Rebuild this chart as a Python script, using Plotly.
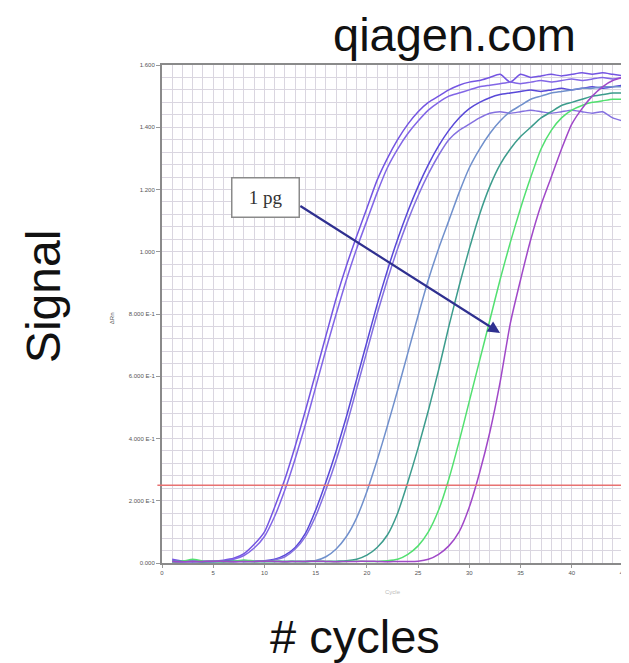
import plotly.graph_objects as go

cycles = list(range(1, 46))

rep_a1 = [0.012, 0.006, 0.004, 0.005, 0.006, 0.009, 0.015, 0.03, 0.06, 0.10,
          0.18, 0.27, 0.375, 0.49, 0.61, 0.73, 0.85, 0.955, 1.05, 1.14,
          1.23, 1.30, 1.36, 1.41, 1.45, 1.48, 1.50, 1.52, 1.535, 1.545,
          1.55, 1.56, 1.57, 1.545, 1.57, 1.56, 1.565, 1.57, 1.565, 1.57,
          1.575, 1.57, 1.575, 1.57, 1.565]
rep_a2 = [0.008, 0.005, 0.005, 0.004, 0.005, 0.007, 0.012, 0.024, 0.048, 0.085,
          0.15, 0.235, 0.335, 0.445, 0.565, 0.685, 0.80, 0.91, 1.01, 1.10,
          1.19, 1.27, 1.33, 1.38, 1.42, 1.455, 1.48, 1.50, 1.51, 1.52,
          1.53, 1.535, 1.54, 1.545, 1.54, 1.545, 1.55, 1.545, 1.55, 1.555,
          1.55, 1.555, 1.56, 1.555, 1.56]
rep_b1 = [0.005, 0.004, 0.006, 0.005, 0.004, 0.005, 0.006, 0.005, 0.006, 0.007,
          0.012, 0.025, 0.05, 0.095, 0.17, 0.26, 0.36, 0.47, 0.59, 0.71,
          0.83, 0.94, 1.04, 1.13, 1.21, 1.28, 1.34, 1.39, 1.43, 1.46,
          1.48, 1.495, 1.505, 1.51, 1.515, 1.52, 1.515, 1.52, 1.525, 1.52,
          1.525, 1.53, 1.525, 1.53, 1.535]
rep_b2 = [0.004, 0.005, 0.005, 0.004, 0.006, 0.005, 0.004, 0.006, 0.005, 0.005,
          0.01, 0.02, 0.045, 0.085, 0.15, 0.235, 0.33, 0.44, 0.56, 0.68,
          0.80, 0.91, 1.01, 1.10, 1.18, 1.25, 1.31, 1.36, 1.39, 1.41,
          1.43, 1.445, 1.45, 1.445, 1.45, 1.455, 1.45, 1.445, 1.45, 1.455,
          1.45, 1.445, 1.45, 1.43, 1.42]
rep_c = [0.005, 0.004, 0.005, 0.006, 0.005, 0.004, 0.005, 0.005, 0.006, 0.005,
         0.005, 0.004, 0.005, 0.006, 0.008, 0.02, 0.045, 0.085, 0.145, 0.23,
         0.33, 0.44, 0.555, 0.675, 0.795, 0.91, 1.01, 1.10, 1.19, 1.27,
         1.33, 1.38, 1.42, 1.45, 1.47, 1.49, 1.50, 1.51, 1.515, 1.52,
         1.525, 1.525, 1.53, 1.53, 1.53]
rep_d = [0.005, 0.006, 0.005, 0.004, 0.005, 0.005, 0.006, 0.005, 0.004, 0.005,
         0.005, 0.006, 0.005, 0.004, 0.005, 0.005, 0.006, 0.007, 0.012, 0.025,
         0.05, 0.09, 0.16, 0.26, 0.37, 0.49, 0.62, 0.76, 0.89, 1.01,
         1.12, 1.21, 1.28, 1.33, 1.37, 1.40, 1.43, 1.45, 1.47, 1.48,
         1.49, 1.50, 1.505, 1.51, 1.51]
rep_e = [0.004, 0.006, 0.012, 0.006, 0.005, 0.004, 0.005, 0.01, 0.006, 0.005,
         0.005, 0.004, 0.005, 0.005, 0.006, 0.005, 0.004, 0.005, 0.006, 0.005,
         0.005, 0.007, 0.012, 0.028, 0.055, 0.10, 0.17, 0.27, 0.39, 0.52,
         0.65, 0.78, 0.91, 1.03, 1.14, 1.24, 1.33, 1.39, 1.43, 1.455,
         1.47, 1.48, 1.485, 1.49, 1.49]
rep_f = [0.005, 0.004, 0.005, 0.005, 0.006, 0.005, 0.004, 0.005, 0.005, 0.006,
         0.005, 0.004, 0.005, 0.005, 0.006, 0.005, 0.004, 0.005, 0.005, 0.006,
         0.005, 0.004, 0.005, 0.005, 0.006, 0.012, 0.028, 0.055, 0.10, 0.18,
         0.29, 0.42, 0.58, 0.77, 0.91, 1.04, 1.15, 1.24, 1.33, 1.41,
         1.46, 1.50, 1.53, 1.55, 1.56]

series = [
    (rep_a1, "#7455e2"),
    (rep_a2, "#8266e6"),
    (rep_b1, "#5848d8"),
    (rep_b2, "#8470e0"),
    (rep_c, "#7090cc"),
    (rep_d, "#3c9c8c"),
    (rep_e, "#52e070"),
    (rep_f, "#a048c8"),
]

threshold = 0.25

x_tick_vals = [0, 5, 10, 15, 20, 25, 30, 35, 40, 45]
x_tick_text = ["0", "5", "10", "15", "20", "25", "30", "35", "40", "45"]
y_tick_vals = [0.0, 0.2, 0.4, 0.6, 0.8, 1.0, 1.2, 1.4, 1.6]
y_tick_text = ["0.000", "2.000 E-1", "4.000 E-1", "6.000 E-1", "8.000 E-1",
               "1.000", "1.200", "1.400", "1.600"]

fig = go.Figure()
for vals, col in series:
    fig.add_trace(go.Scatter(x=cycles, y=vals, mode="lines",
                             line=dict(color=col, width=1.5, shape="spline", smoothing=0.6),
                             hoverinfo="skip", showlegend=False))

fig.add_shape(type="line", xref="paper", yref="y", x0=-0.01, x1=1, y0=threshold, y1=threshold,
              line=dict(color="#e87272", width=1.6))

grid_col = "#dad6e0"
fig.update_xaxes(range=[0, 45], tickvals=x_tick_vals, ticktext=x_tick_text,
                 showgrid=True, gridcolor=grid_col, gridwidth=1,
                 minor=dict(dtick=1, tick0=0, showgrid=True, gridcolor=grid_col, gridwidth=1),
                 showline=True, linecolor="#8a8a8a", linewidth=2, mirror=True,
                 ticks="outside", ticklen=3, tickcolor="#999",
                 tickfont=dict(family="Liberation Sans", size=6, color="#555"),
                 zeroline=False)
fig.update_yaxes(range=[0, 1.6], tickvals=y_tick_vals, ticktext=y_tick_text,
                 showgrid=True, gridcolor=grid_col, gridwidth=1,
                 minor=dict(dtick=0.04, tick0=0, showgrid=True, gridcolor=grid_col, gridwidth=1),
                 showline=True, linecolor="#8a8a8a", linewidth=2, mirror=True,
                 ticks="outside", ticklen=4, tickcolor="#999",
                 tickfont=dict(family="Liberation Sans", size=6, color="#555"),
                 zeroline=False)

big = dict(family="Liberation Sans, Arial, sans-serif", size=47, color="#111")
fig.add_annotation(text="qiagen.com", xref="paper", yref="paper", x=0.634, y=1.062,
                   xanchor="center", yanchor="middle", showarrow=False, font=big)
fig.add_annotation(text="Signal", xref="paper", yref="paper", x=-0.258, y=0.534,
                   xanchor="center", yanchor="middle", showarrow=False,
                   font=dict(family="Liberation Sans, Arial, sans-serif", size=48, color="#111"),
                   textangle=-90)
fig.add_annotation(text="# cycles", xref="paper", yref="paper", x=0.419, y=-0.147,
                   xanchor="center", yanchor="middle", showarrow=False, font=big)
fig.add_annotation(text="ΔRn", xref="paper", yref="paper", x=-0.108, y=0.492,
                   xanchor="center", yanchor="middle", showarrow=False, textangle=-90,
                   font=dict(family="Liberation Sans", size=6, color="#555"))
fig.add_annotation(text="Cycle", xref="paper", yref="paper", x=0.5, y=-0.058,
                   xanchor="center", yanchor="middle", showarrow=False,
                   font=dict(family="Liberation Sans", size=6, color="#bbb"))

# label box
fig.add_annotation(text="1 pg", x=10.06, y=1.173, xref="x", yref="y", showarrow=False,
                   font=dict(family="Liberation Serif, Times New Roman, serif", size=19, color="#333"),
                   bgcolor="white", bordercolor="#8a8a8a", borderwidth=1.5, borderpad=6,
                   width=54, height=26)
# arrow
fig.add_annotation(text="", x=33.0, y=0.739, ax=13.36, ay=1.150, xref="x", yref="y",
                   axref="x", ayref="y", showarrow=True, arrowhead=2, arrowsize=1.1,
                   arrowwidth=2.2, arrowcolor="#2f3090")

# page body adds an 8px offset, so the figure is 8px smaller than the window
fig.update_layout(width=621, height=655, margin=dict(l=154, r=2, t=57, b=100),
                  plot_bgcolor="white", paper_bgcolor="white", showlegend=False)

fig.write_html("out.html")
